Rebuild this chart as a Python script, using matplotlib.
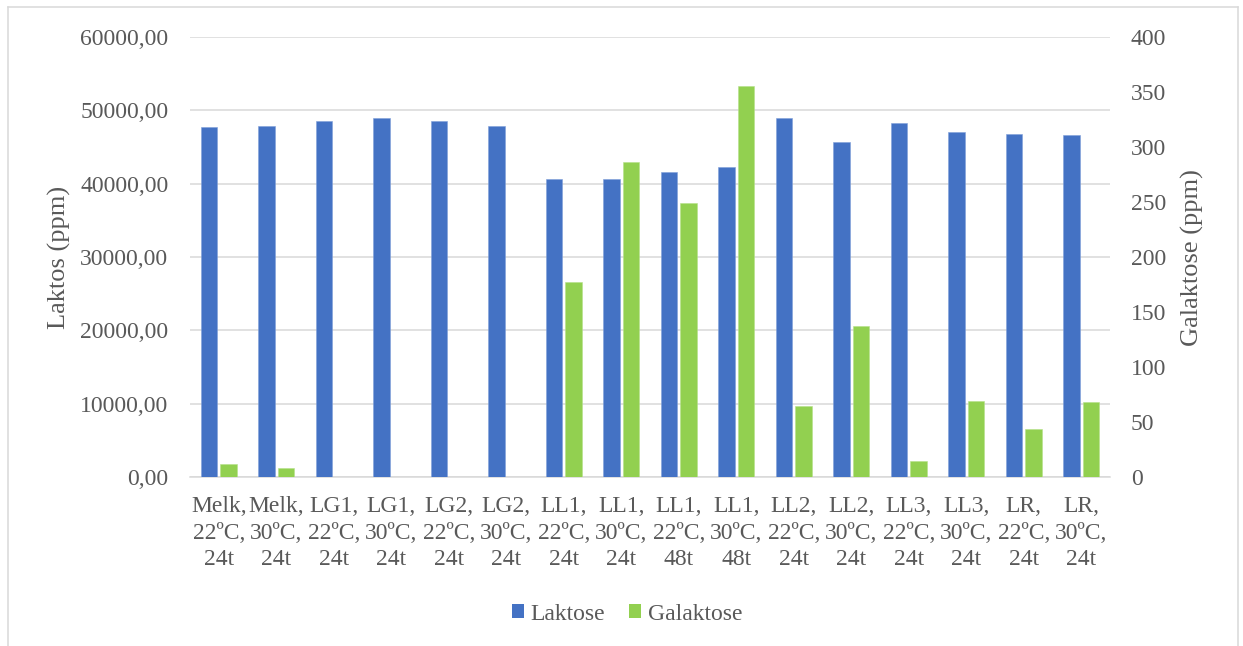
import matplotlib
matplotlib.use("Agg")
import matplotlib.pyplot as plt
from matplotlib.patches import Patch
from matplotlib.lines import Line2D
from matplotlib.font_manager import FontProperties

FAMILY = ['Liberation Serif', 'DejaVu Serif']
plt.rcParams['font.family'] = FAMILY

# Sample labels (three lines each: sample, temperature, time)
samples = ["Melk", "Melk", "LG1", "LG1", "LG2", "LG2", "LL1", "LL1",
           "LL1", "LL1", "LL2", "LL2", "LL3", "LL3", "LR", "LR"]
temps = ["22ºC", "30ºC", "22ºC", "30ºC", "22ºC", "30ºC", "22ºC", "30ºC",
         "22ºC", "30ºC", "22ºC", "30ºC", "22ºC", "30ºC", "22ºC", "30ºC"]
times = ["24t", "24t", "24t", "24t", "24t", "24t", "24t", "24t",
         "48t", "48t", "24t", "24t", "24t", "24t", "24t", "24t"]

# Lactose (ppm), left axis
laktose = [47700, 47900, 48500, 49000, 48600, 47900, 40600, 40700,
           41600, 42300, 48900, 45700, 48300, 47000, 46800, 46700]
# Galactose (ppm), right axis
galaktose = [11.5, 8, 0, 0, 0, 0, 177, 286,
             249, 355, 64.5, 137, 14.5, 69, 43.5, 68.5]

laktose_ticks = [0, 10000, 20000, 30000, 40000, 50000, 60000]
galaktose_ticks = [0, 50, 100, 150, 200, 250, 300, 350, 400]

BLUE = "#4472C4"
GREEN = "#92D050"
TEXT = "#595959"
GRID = "#D9D9D9"
FS = 17

W, H = 1243, 646
fig = plt.figure(figsize=(W / 100, H / 100), dpi=100)

# chart area border (bottom edge runs below the canvas)
for xs, ys in [([8, 8], [646, 7]), ([8, 1238], [7, 7]), ([1238, 1238], [7, 646])]:
    fig.add_artist(Line2D([v / W for v in xs], [1 - v / H for v in ys],
                          color=GRID, lw=1.1, transform=fig.transFigure))

left, right, bottom, top = 190, 1110, 477, 37
ax = fig.add_axes([left / W, 1 - bottom / H, (right - left) / W, (bottom - top) / H])
ax2 = ax.twinx()

x = list(range(len(samples)))
bw = 0.29
off = 0.17
ax.bar([i - off for i in x], laktose, width=bw, color=BLUE,
       edgecolor="#7f9fd9", linewidth=0.4, zorder=3)
ax2.bar([i + off for i in x], galaktose, width=bw, color=GREEN,
        edgecolor="#b5e08a", linewidth=0.4, zorder=3)

ax.set_xlim(-0.5, len(samples) - 0.5)
ax.set_ylim(0, 60000)
ax2.set_ylim(0, 400)

ax.set_yticks(laktose_ticks)
ax.set_yticklabels([f"{v:.2f}".replace(".", ",") for v in laktose_ticks],
                   family=FAMILY)
ax2.set_yticks(galaktose_ticks)
ax2.set_yticklabels([str(v) for v in galaktose_ticks], family=FAMILY)

labels = [f"{s},\n{t},\n{h}" for s, t, h in zip(samples, temps, times)]
ax.set_xticks(x)
ax.set_xticklabels(labels, family=FAMILY)
for t in ax.get_xticklabels():
    t.set_horizontalalignment("center")
    t.set_multialignment("center")
    t.set_linespacing(1.32)

ax.grid(axis="y", color=GRID, lw=1.1, zorder=0)
ax.set_axisbelow(True)
for a in (ax, ax2):
    for sp in a.spines.values():
        sp.set_visible(False)
ax.spines["bottom"].set_visible(True)
ax.spines["bottom"].set_color(GRID)
ax.spines["bottom"].set_linewidth(1.1)

ax.tick_params(axis="y", length=0, pad=15.5, labelsize=FS, labelcolor=TEXT)
ax2.tick_params(axis="y", length=0, pad=15, labelsize=FS, labelcolor=TEXT)
ax.tick_params(axis="x", length=0, pad=14, labelsize=FS, labelcolor=TEXT)

fig.text(59 / W, 1 - 257 / H, "Laktos (ppm)", rotation=90, ha="center",
         va="center", fontsize=19, color=TEXT, family=FAMILY)
fig.text(1192 / W, 1 - 258 / H, "Galaktose (ppm)", rotation=90, ha="center",
         va="center", fontsize=19, color=TEXT, family=FAMILY)

handles = [Patch(facecolor=BLUE, label="Laktose"),
           Patch(facecolor=GREEN, label="Galaktose")]
fig.legend(handles=handles, loc="center", bbox_to_anchor=(627 / W, 1 - 614 / H),
           ncol=2, frameon=False, prop=FontProperties(family=FAMILY, size=FS),
           labelcolor=TEXT, handlelength=0.5, handleheight=0.5,
           handletextpad=0.3, columnspacing=1.0, borderpad=0)

fig.savefig("out.png", dpi=100)
